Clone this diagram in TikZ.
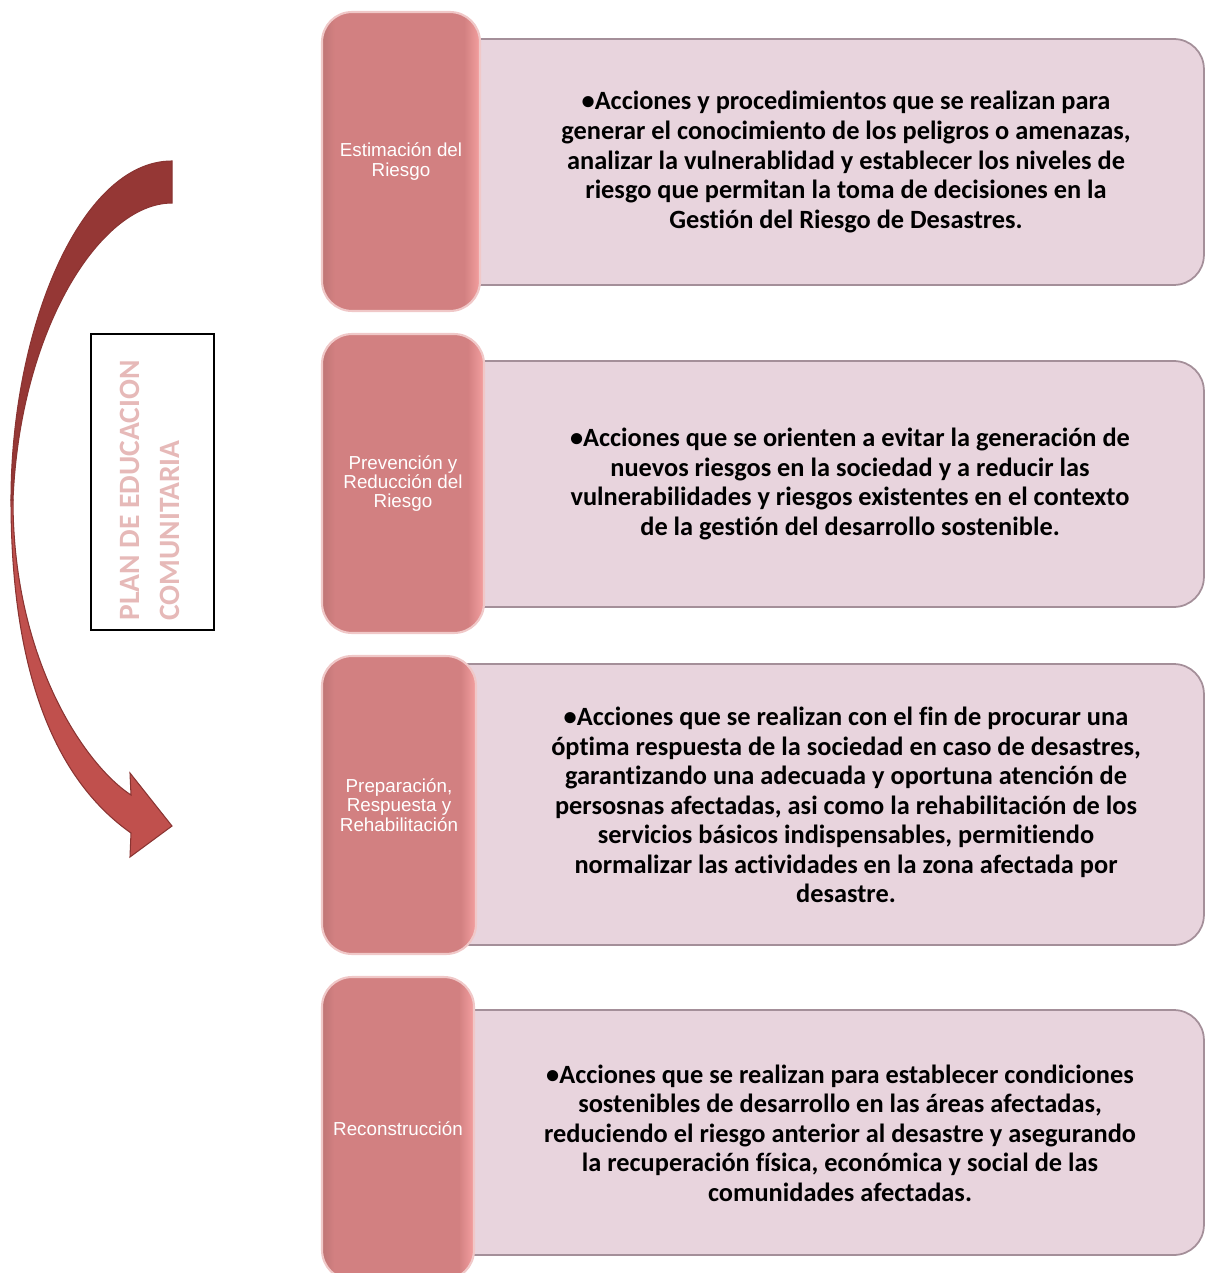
\documentclass[tikz,border=0pt]{standalone}
\usepackage{fontspec}
\setmainfont{Carlito}[RawFeature=-liga]
\newfontfamily\arialfont{Liberation Sans}
\usepackage{tikz}

\definecolor{phaseL}{HTML}{BF7575}
\definecolor{phaseM}{HTML}{D28081}
\definecolor{phaseR}{HTML}{F4A0A0}
\definecolor{phaseGlow}{HTML}{F0C8C8}
\definecolor{descFill}{HTML}{E8D4DD}
\definecolor{descLine}{HTML}{A48F99}
\definecolor{arrowDark}{HTML}{953735}
\definecolor{arrowLight}{HTML}{C0504D}
\definecolor{arrowEdge}{HTML}{8A3432}
\definecolor{titlePink}{HTML}{E6B9B8}

\pgfdeclarehorizontalshading{phaseshade}{100bp}{color(0bp)=(phaseL); color(25bp)=(phaseL); color(29bp)=(phaseM); color(70bp)=(phaseM); color(75bp)=(phaseR); color(100bp)=(phaseR)}

\begin{document}
\begin{tikzpicture}[
    x=0.02cm, y=-0.02cm,
    % Styles
    phase/.style={
        rectangle, rounded corners=0.6cm,
        shading=phaseshade, draw=phaseGlow, line width=1.2pt,
        text=white, align=center, inner sep=2pt,
        font=\arialfont\fontsize{10.7}{11}\selectfont
    },
    descframe/.style={
        rectangle, rounded corners=0.6cm,
        fill=descFill, draw=descLine, line width=1pt
    },
    desctext/.style={
        align=center, text=black, inner sep=0pt,
        font=\bfseries\fontsize{15}{16.8}\selectfont
    },
    titlebox/.style={
        rectangle, draw=black, line width=0.8pt
    },
    titletext/.style={
        rotate=90, anchor=west, align=left, inner sep=0pt,
        text=titlePink, font=\bfseries\fontsize{16.8}{22.8}\selectfont
    },
    curvearrow/.style={draw=arrowEdge, line width=0.6pt, line join=miter}
]
\useasboundingbox (0,0) rectangle (1206,1273);

% === CURVED ARROW (left) ===
\draw [curvearrow, fill=arrowDark] (172,161) .. controls (80,161) and (11,330) .. (11,500)
    -- (13,500) .. controls (20,330) and (100,203) .. (172,203) -- cycle;
\draw [curvearrow, fill=arrowLight] (11,500) .. controls (11,700) and (70,790) .. (131,833)
    -- (130,857) -- (172,826) -- (130,773) -- (131,795)
    .. controls (85,765) and (13,660) .. (13,500) -- cycle;

% === TITLE BOX ===
\node (titleframe) [titlebox, minimum width=2.46cm, minimum height=5.92cm] at (152.5,482) {};
\node (title) [titletext] at (150,621) {PLAN DE EDUCACION\\COMUNITARIA};

% === DESCRIPTION FRAMES (behind the phases) ===
\node (frame1) [descframe, minimum width=15.28cm, minimum height=4.92cm] at (822,162) {};
\node (frame2) [descframe, minimum width=15.20cm, minimum height=4.92cm] at (824,484) {};
\node (frame3) [descframe, minimum width=15.36cm, minimum height=5.62cm] at (820,804.5) {};
\node (frame4) [descframe, minimum width=15.40cm, minimum height=4.90cm] at (819,1132.5) {};

% === PHASES ===
\node (estimacion) [phase, minimum width=3.16cm, minimum height=5.98cm] at (401,161.5) {Estimación del\\Riesgo};
\node (prevencion) [phase, minimum width=3.24cm, minimum height=5.98cm] at (403,483.5) {Prevención y\\Reducción del\\Riesgo};
\node (preparacion) [phase, minimum width=3.08cm, minimum height=5.96cm] at (399,805) {Preparación,\\Respuesta y\\Rehabilitación};
\node (reconstruccion) [phase, minimum width=3.04cm, minimum height=6.06cm] at (398,1128.5) {Reconstrucción};

% === DESCRIPTIONS ===
\node (desc1) [desctext] at (846,162) {•Acciones y procedimientos que se realizan para\\generar el conocimiento de los peligros o amenazas,\\analizar la vulnerablidad y establecer los niveles de\\riesgo que permitan la toma de decisiones en la\\Gestión del Riesgo de Desastres.};
\node (desc2) [desctext] at (850,484) {•Acciones que se orienten a evitar la generación de\\nuevos riesgos en la sociedad y a reducir las\\vulnerabilidades y riesgos existentes en el contexto\\de la gestión del desarrollo sostenible.};
\node (desc3) [desctext] at (846,805) {•Acciones que se realizan con el fin de procurar una\\óptima respuesta de la sociedad en caso de desastres,\\garantizando una adecuada y oportuna atención de\\persosnas afectadas, asi como la rehabilitación de los\\servicios básicos indispensables, permitiendo\\normalizar las actividades en la zona afectada por\\desastre.};
\node (desc4) [desctext] at (840,1133) {•Acciones que se realizan para establecer condiciones\\sostenibles de desarrollo en las áreas afectadas,\\reduciendo el riesgo anterior al desastre y asegurando\\la recuperación física, económica y social de las\\comunidades afectadas.};

\end{tikzpicture}
\end{document}
